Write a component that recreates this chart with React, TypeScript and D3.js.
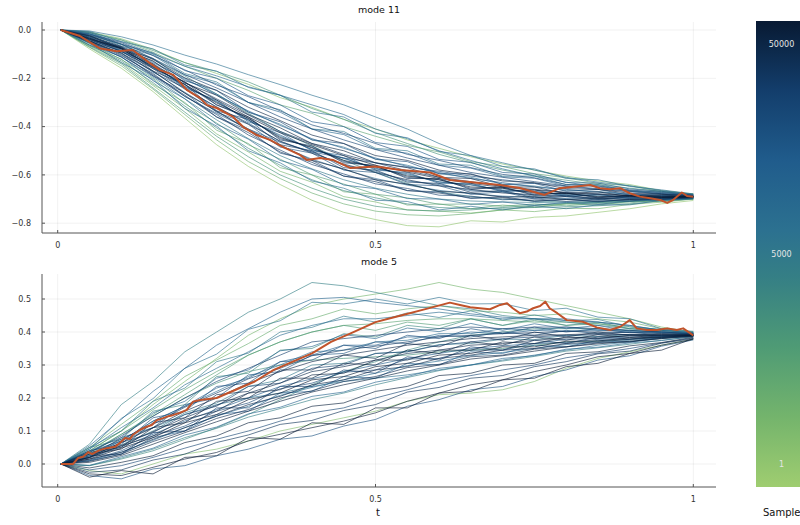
import React from "react";
import * as d3 from "d3";

// ---------- data ----------
const tKnots = [0.005, 0.05, 0.1, 0.15, 0.2, 0.25, 0.3, 0.35, 0.4, 0.45, 0.5, 0.55, 0.6, 0.65, 0.7, 0.75, 0.8, 0.85, 0.9, 0.95, 1.0];

const mode11Paths: number[][] = [
  [0,-.004,-.028,-.062,-.104,-.141,-.185,-.226,-.27,-.31,-.36,-.41,-.47,-.52,-.55,-.58,-.61,-.63,-.645,-.665,-.68],
  [0,-.01,-.04,-.085,-.135,-.172,-.215,-.27,-.325,-.37,-.425,-.47,-.515,-.55,-.58,-.603,-.622,-.64,-.655,-.668,-.68],
  [0,-.018,-.052,-.106,-.165,-.228,-.276,-.335,-.393,-.428,-.47,-.515,-.54,-.57,-.598,-.612,-.64,-.645,-.662,-.673,-.684],
  [0,-.016,-.048,-.098,-.15,-.19,-.235,-.27,-.31,-.35,-.41,-.45,-.5,-.54,-.575,-.605,-.63,-.65,-.665,-.678,-.686],
  [0,-.024,-.068,-.122,-.198,-.25,-.32,-.375,-.435,-.47,-.52,-.54,-.58,-.598,-.625,-.632,-.657,-.66,-.676,-.68,-.688],
  [0,-.028,-.07,-.135,-.2,-.27,-.335,-.395,-.45,-.49,-.53,-.565,-.59,-.615,-.632,-.65,-.66,-.672,-.678,-.686,-.69],
  [0,-.03,-.075,-.14,-.218,-.285,-.352,-.42,-.47,-.515,-.55,-.583,-.61,-.628,-.648,-.66,-.672,-.678,-.684,-.688,-.69],
  [0,-.036,-.078,-.152,-.226,-.302,-.366,-.445,-.488,-.54,-.566,-.605,-.62,-.65,-.655,-.675,-.677,-.69,-.687,-.693,-.69],
  [0,-.033,-.085,-.147,-.235,-.295,-.375,-.435,-.495,-.53,-.575,-.595,-.63,-.64,-.665,-.668,-.684,-.682,-.693,-.688,-.692],
  [0,-.04,-.088,-.16,-.245,-.318,-.39,-.46,-.51,-.555,-.59,-.62,-.645,-.66,-.675,-.682,-.69,-.694,-.696,-.692,-.691],
  [0,-.044,-.098,-.172,-.258,-.338,-.41,-.48,-.535,-.578,-.615,-.642,-.664,-.678,-.688,-.693,-.698,-.7,-.699,-.696,-.693],
  [0,-.048,-.106,-.18,-.275,-.35,-.435,-.497,-.557,-.596,-.637,-.656,-.684,-.688,-.703,-.699,-.71,-.704,-.708,-.697,-.695],
  [0,-.052,-.112,-.195,-.285,-.372,-.45,-.52,-.575,-.62,-.655,-.68,-.7,-.708,-.712,-.714,-.716,-.714,-.71,-.702,-.697],
  [0,-.056,-.122,-.2,-.305,-.385,-.475,-.535,-.6,-.638,-.68,-.695,-.722,-.72,-.73,-.72,-.728,-.718,-.716,-.703,-.698],
  [0,-.066,-.135,-.23,-.325,-.43,-.505,-.585,-.63,-.69,-.712,-.745,-.75,-.758,-.745,-.752,-.738,-.74,-.722,-.713,-.7],
  [0,-.078,-.158,-.255,-.365,-.475,-.565,-.64,-.705,-.755,-.785,-.81,-.815,-.79,-.795,-.775,-.77,-.755,-.74,-.72,-.706],
  [0,-.072,-.148,-.245,-.35,-.455,-.545,-.615,-.675,-.72,-.75,-.765,-.77,-.76,-.745,-.73,-.72,-.715,-.71,-.705,-.7],
  [0,-.022,-.06,-.12,-.19,-.265,-.345,-.42,-.48,-.54,-.59,-.635,-.67,-.69,-.7,-.708,-.712,-.71,-.705,-.7,-.694],
  [0,-.05,-.112,-.19,-.275,-.345,-.41,-.465,-.505,-.53,-.55,-.568,-.585,-.605,-.62,-.635,-.648,-.66,-.67,-.68,-.685],
  [0,-.012,-.042,-.092,-.15,-.2,-.25,-.31,-.345,-.4,-.44,-.478,-.505,-.545,-.565,-.595,-.612,-.635,-.645,-.67,-.68],
  [0,-.046,-.095,-.17,-.262,-.335,-.415,-.476,-.54,-.575,-.62,-.638,-.668,-.675,-.692,-.69,-.702,-.698,-.702,-.694,-.694],
  [0,-.026,-.072,-.13,-.205,-.265,-.34,-.39,-.455,-.485,-.535,-.56,-.595,-.61,-.638,-.646,-.665,-.668,-.682,-.684,-.689],
  [0,-.062,-.128,-.218,-.315,-.405,-.49,-.56,-.62,-.665,-.695,-.72,-.735,-.74,-.738,-.735,-.732,-.728,-.72,-.708,-.7],
  [0,-.034,-.074,-.145,-.215,-.29,-.36,-.425,-.475,-.52,-.56,-.588,-.615,-.635,-.652,-.663,-.674,-.68,-.686,-.689,-.69],
  [0,-.038,-.09,-.155,-.24,-.32,-.385,-.462,-.505,-.56,-.585,-.625,-.64,-.665,-.67,-.688,-.686,-.698,-.694,-.695,-.69],
  [0,-.008,-.036,-.08,-.135,-.18,-.225,-.28,-.32,-.37,-.41,-.455,-.49,-.525,-.555,-.58,-.605,-.625,-.64,-.665,-.678],
  [0,-.045,-.102,-.185,-.27,-.36,-.425,-.505,-.548,-.605,-.628,-.665,-.675,-.695,-.695,-.708,-.702,-.71,-.702,-.7,-.694],
  [0,-.02,-.058,-.118,-.185,-.24,-.3,-.36,-.41,-.455,-.495,-.53,-.56,-.59,-.61,-.628,-.646,-.657,-.668,-.678,-.685],
  [0,-.07,-.14,-.24,-.34,-.44,-.525,-.6,-.655,-.7,-.73,-.745,-.75,-.745,-.735,-.725,-.718,-.712,-.708,-.704,-.699],
  [0,-.034,-.082,-.15,-.232,-.298,-.372,-.44,-.495,-.532,-.572,-.6,-.628,-.642,-.662,-.67,-.682,-.686,-.691,-.689,-.69],
  [0,-.01,-.058,-.095,-.168,-.2,-.272,-.31,-.38,-.4,-.466,-.482,-.536,-.548,-.59,-.596,-.632,-.634,-.658,-.668,-.683],
  [0,-.045,-.075,-.17,-.225,-.335,-.37,-.475,-.5,-.57,-.58,-.63,-.635,-.672,-.665,-.695,-.684,-.702,-.688,-.7,-.69],
  [0,-.015,-.066,-.105,-.186,-.222,-.3,-.34,-.41,-.433,-.494,-.51,-.56,-.572,-.608,-.614,-.646,-.646,-.667,-.674,-.684],
  [0,-.052,-.095,-.19,-.26,-.36,-.415,-.51,-.54,-.605,-.62,-.665,-.67,-.698,-.69,-.71,-.7,-.712,-.7,-.703,-.694],
  [0,-.006,-.048,-.078,-.145,-.17,-.238,-.27,-.34,-.36,-.428,-.446,-.503,-.52,-.565,-.575,-.615,-.62,-.648,-.662,-.679],
  [0,-.04,-.07,-.16,-.215,-.31,-.36,-.455,-.48,-.55,-.56,-.615,-.615,-.66,-.65,-.685,-.675,-.695,-.685,-.695,-.69],
  [0,-.03,-.09,-.14,-.24,-.29,-.38,-.425,-.5,-.52,-.58,-.59,-.635,-.635,-.67,-.662,-.69,-.68,-.698,-.688,-.691],
  [0,-.055,-.135,-.205,-.325,-.398,-.5,-.55,-.625,-.655,-.705,-.71,-.745,-.73,-.745,-.728,-.74,-.724,-.724,-.705,-.699],
  [0,-.025,-.078,-.128,-.22,-.27,-.35,-.405,-.47,-.5,-.55,-.57,-.61,-.615,-.65,-.65,-.678,-.67,-.69,-.683,-.69],
  [0,-.048,-.085,-.175,-.24,-.34,-.39,-.485,-.51,-.58,-.59,-.64,-.645,-.68,-.67,-.7,-.69,-.705,-.69,-.698,-.691],
  [0,-.015,-.06,-.1,-.18,-.215,-.3,-.33,-.41,-.42,-.49,-.5,-.555,-.56,-.605,-.605,-.64,-.64,-.665,-.67,-.684],
  [0,-.038,-.078,-.155,-.225,-.31,-.365,-.45,-.485,-.545,-.565,-.61,-.62,-.655,-.655,-.68,-.675,-.692,-.686,-.694,-.69],
  [0,-.062,-.11,-.21,-.285,-.39,-.452,-.54,-.577,-.642,-.657,-.698,-.7,-.722,-.712,-.726,-.714,-.722,-.708,-.705,-.697],
  [0,-.022,-.075,-.118,-.21,-.25,-.34,-.38,-.455,-.47,-.535,-.545,-.595,-.595,-.64,-.635,-.668,-.66,-.684,-.678,-.688],
  [0,-.065,-.12,-.225,-.3,-.415,-.47,-.57,-.6,-.67,-.68,-.725,-.72,-.74,-.725,-.735,-.72,-.725,-.71,-.71,-.699],
];
const mode11Shades = [0.55,0.35,0.8,0.6,0.95,0.7,0.88,1.0,0.75,0.92,0.65,0.85,0.5,0.3,0.15,0.05,0.2,0.45,0.78,0.25,0.97,0.58,0.4,0.99,0.68,0.1,0.9,0.82,0.35,0.6,
  0.72,0.88,0.62,0.8,0.55,0.9,0.7,0.6,0.96,0.76,0.5,0.85,0.66,0.78,0.22];

const mode11HighlightT = [0.005,0.035,0.067,0.093,0.118,0.145,0.161,0.182,0.203,0.224,0.235,0.25,0.276,0.292,0.313,0.334,0.354,0.381,0.392,0.413,0.433,0.46,0.5,0.54,0.586,0.617,0.664,0.696,0.727,0.766,0.79,0.838,0.853,0.869,0.885,0.9,0.916,0.932,0.948,0.959,0.968,0.982,0.99,1.0];
const mode11HighlightV = [0,-0.025,-0.077,-0.088,-0.083,-0.137,-0.166,-0.186,-0.248,-0.282,-0.311,-0.323,-0.36,-0.402,-0.435,-0.455,-0.484,-0.517,-0.538,-0.53,-0.538,-0.571,-0.565,-0.58,-0.59,-0.621,-0.634,-0.642,-0.654,-0.683,-0.655,-0.642,-0.655,-0.659,-0.655,-0.676,-0.69,-0.697,-0.704,-0.716,-0.704,-0.673,-0.687,-0.69];

const mode5Paths: number[][] = [
  [0,.06,.18,.25,.34,.4,.46,.5,.55,.54,.52,.5,.48,.47,.45,.44,.43,.42,.41,.4,.395],
  [0,.04,.1,.18,.25,.32,.39,.44,.48,.5,.515,.53,.55,.53,.52,.5,.48,.46,.44,.415,.4],
  [0,.045,.11,.17,.24,.29,.34,.39,.42,.44,.44,.45,.46,.45,.44,.44,.435,.43,.42,.405,.398],
  [0,.03,.09,.15,.21,.27,.33,.37,.4,.42,.405,.43,.42,.44,.42,.435,.42,.425,.41,.405,.396],
  [0,.035,.085,.145,.2,.25,.29,.33,.37,.38,.39,.4,.41,.415,.41,.415,.415,.41,.405,.4,.395],
  [0,.028,.07,.13,.175,.23,.26,.31,.33,.36,.36,.385,.385,.4,.395,.405,.402,.406,.4,.398,.394],
  [0,.02,.065,.11,.16,.2,.245,.28,.31,.33,.345,.36,.37,.38,.385,.39,.392,.395,.392,.392,.392],
  [0,.025,.058,.1,.155,.185,.235,.255,.3,.305,.335,.34,.362,.365,.378,.377,.39,.386,.392,.388,.391],
  [0,.015,.048,.08,.125,.15,.195,.215,.255,.265,.295,.305,.33,.335,.355,.355,.372,.373,.382,.384,.39],
  [0,.012,.04,.085,.115,.16,.185,.228,.245,.278,.285,.318,.32,.345,.345,.365,.368,.378,.378,.386,.389],
  [0,.008,.03,.068,.1,.138,.165,.2,.222,.25,.265,.292,.302,.325,.33,.348,.355,.367,.37,.381,.388],
  [0,-.004,.022,.048,.088,.112,.152,.172,.205,.218,.248,.265,.29,.3,.32,.328,.348,.354,.367,.374,.386],
  [0,-.012,.005,.025,.065,.085,.125,.14,.175,.185,.22,.235,.268,.275,.3,.305,.335,.34,.358,.368,.384],
  [0,-.025,-.018,.012,.03,.065,.088,.12,.132,.162,.18,.218,.232,.26,.268,.295,.31,.334,.342,.366,.38],
  [0,-.035,-.045,-.015,-.005,.025,.045,.075,.085,.115,.135,.175,.195,.225,.235,.265,.285,.315,.328,.357,.376],
  [0,-.02,-.03,0,.03,.045,.07,.1,.12,.14,.16,.19,.21,.215,.225,.25,.29,.32,.34,.36,.378],
  [0,.025,.07,.11,.15,.18,.2,.215,.235,.25,.26,.27,.285,.3,.315,.33,.345,.36,.37,.38,.388],
  [0,-.005,.015,.04,.075,.11,.15,.195,.24,.28,.31,.345,.37,.39,.4,.41,.41,.41,.405,.4,.395],
  [0,.03,.075,.12,.172,.215,.258,.29,.328,.345,.357,.37,.385,.39,.395,.398,.402,.4,.398,.395,.393],
  [0,.005,.026,.06,.095,.128,.16,.19,.218,.24,.26,.282,.3,.318,.328,.342,.355,.364,.372,.38,.387],
  [0,.05,.12,.19,.265,.315,.365,.42,.44,.47,.455,.47,.48,.465,.46,.45,.455,.44,.43,.41,.4],
  [0,-.018,-.005,.02,.048,.075,.1,.13,.155,.17,.2,.225,.25,.268,.285,.3,.322,.336,.35,.367,.382],
  [0,.018,.052,.09,.13,.165,.2,.235,.258,.28,.3,.32,.335,.35,.358,.365,.378,.38,.385,.386,.39],
  [0,.01,.036,.072,.11,.145,.175,.208,.232,.255,.275,.298,.312,.328,.338,.35,.362,.368,.375,.382,.389],
  [0,.035,.09,.145,.2,.245,.28,.3,.315,.32,.325,.33,.34,.345,.35,.36,.37,.372,.378,.385,.39],
  [0,.055,.135,.22,.29,.36,.41,.46,.5,.505,.49,.48,.47,.455,.445,.44,.44,.43,.42,.405,.398],
  [0,-.03,-.035,-.01,.015,.035,.07,.09,.11,.13,.155,.19,.215,.24,.255,.28,.3,.325,.335,.36,.378],
  [0,.02,.056,.098,.14,.178,.215,.245,.28,.295,.315,.335,.345,.36,.365,.375,.382,.385,.388,.388,.391],
  [0,-.005,.018,.045,.08,.108,.142,.168,.195,.215,.24,.262,.283,.3,.312,.326,.342,.352,.363,.375,.386],
  [0,.04,.1,.165,.225,.28,.33,.37,.4,.42,.425,.435,.44,.44,.435,.43,.43,.425,.415,.405,.397],
  [0,.03,.045,.11,.125,.19,.2,.26,.26,.305,.3,.345,.335,.37,.36,.385,.375,.392,.383,.392,.39],
  [0,.05,.1,.19,.23,.31,.336,.4,.414,.448,.43,.458,.444,.464,.436,.452,.434,.438,.416,.408,.399],
  [0,.04,.06,.14,.16,.235,.245,.31,.315,.36,.35,.39,.38,.41,.395,.415,.4,.41,.398,.4,.394],
  [0,.045,.138,.198,.29,.333,.408,.434,.49,.485,.5,.485,.505,.485,.486,.465,.472,.445,.44,.41,.402],
  [0,.025,.03,.095,.1,.17,.17,.235,.235,.285,.275,.325,.315,.355,.345,.375,.365,.385,.378,.39,.39],
  [0,.05,.075,.16,.18,.265,.275,.345,.35,.395,.385,.42,.41,.44,.42,.44,.42,.43,.41,.408,.396],
  [0,.04,.08,.155,.19,.26,.285,.343,.356,.392,.38,.412,.401,.426,.405,.425,.41,.42,.402,.402,.396],
  [0,.035,.05,.125,.14,.21,.22,.285,.285,.33,.32,.365,.355,.39,.375,.4,.385,.4,.39,.395,.392],
  [0,.01,.03,.08,.1,.15,.16,.215,.22,.265,.26,.305,.3,.34,.335,.36,.355,.375,.37,.384,.389],
  [0,.02,.055,.085,.135,.16,.215,.225,.27,.275,.315,.315,.345,.345,.37,.365,.385,.38,.39,.388,.39],
  [0,.02,.08,.11,.18,.2,.27,.28,.33,.335,.37,.365,.39,.385,.4,.39,.405,.395,.4,.39,.393],
  [0,.038,.07,.13,.175,.22,.265,.3,.34,.345,.37,.375,.395,.395,.41,.405,.415,.405,.405,.398,.395],
  [0,.015,.035,.075,.11,.145,.18,.205,.24,.255,.285,.295,.32,.33,.345,.35,.365,.37,.378,.383,.389],
  [0,-.04,-.02,-.03,.02,.025,.08,.075,.125,.12,.17,.17,.215,.22,.255,.26,.295,.305,.335,.345,.38],
  [0,.022,.065,.095,.15,.175,.235,.245,.29,.3,.335,.34,.36,.37,.38,.385,.39,.392,.392,.39,.391],
];
const mode5Shades = [0.45,0.15,0.6,0.3,0.85,0.7,0.95,0.5,1.0,0.8,0.92,0.65,0.98,0.9,0.75,0.1,0.55,0.4,0.88,0.97,0.2,0.82,0.72,0.6,0.35,0.65,0.99,0.93,0.45,0.25,
  0.96,0.5,0.78,0.55,0.85,0.4,0.65,0.93,0.7,0.97,0.75,0.6,0.94,1.0,0.83];

const mode5HighlightT = [0.005,0.024,0.032,0.04,0.048,0.054,0.066,0.077,0.09,0.098,0.106,0.114,0.118,0.129,0.14,0.148,0.156,0.166,0.174,0.181,0.192,0.203,0.213,0.224,0.25,0.28,0.31,0.34,0.37,0.4,0.43,0.46,0.5,0.54,0.58,0.617,0.633,0.649,0.664,0.68,0.696,0.707,0.716,0.727,0.738,0.748,0.759,0.767,0.774,0.786,0.801,0.826,0.848,0.869,0.885,0.9,0.911,0.927,0.943,0.959,0.974,0.984,1.0];
const mode5HighlightV = [0,0,0.018,0.022,0.036,0.03,0.042,0.048,0.052,0.064,0.079,0.076,0.088,0.103,0.113,0.118,0.133,0.139,0.145,0.148,0.155,0.164,0.189,0.194,0.2,0.225,0.25,0.285,0.31,0.335,0.37,0.395,0.43,0.45,0.47,0.489,0.482,0.475,0.472,0.469,0.482,0.487,0.472,0.457,0.462,0.472,0.479,0.492,0.472,0.457,0.436,0.431,0.414,0.406,0.416,0.436,0.411,0.406,0.406,0.411,0.406,0.411,0.39];

const xTicks = [0, 0.5, 1];
const xTickLabels = ["0", "0.5", "1"];
const mode11YTicks = [0, -0.2, -0.4, -0.6, -0.8];
const mode5YTicks = [0, 0.1, 0.2, 0.3, 0.4, 0.5];
const colorbarTickPos = [0.05, 0.5, 0.95];
const colorbarTickLabels = ["1", "5000", "50000"];
const colormapStops = [0, 0.15, 0.3, 0.45, 0.55, 0.7, 0.85, 1];
const colormapColors = ["#9fcd70", "#74b46c", "#4f9b75", "#357f85", "#2c7190", "#205c8c", "#133e6c", "#081a33"];

// ---------- layout ----------
const W = 800, H = 525;
const frameLeft = 42, frameRight = 716;
const FONT = "DejaVu Sans, sans-serif";
const ORANGE = "#c1532b";

const cmap = d3.scaleLinear<string>().domain(colormapStops).range(colormapColors).interpolate(d3.interpolateRgb);

function fmt(v: number, digits: number) {
  const s = v.toFixed(digits);
  return s.startsWith("-") ? "\u2212" + s.slice(1) : s;
}

function Panel(props: {
  title: string; titleY: number; top: number; bottom: number;
  yDomain: [number, number]; yRange: [number, number]; yTicks: number[];
  paths: number[][]; shades: number[]; hiT: number[]; hiV: number[];
}) {
  const { title, titleY, top, bottom, yDomain, yRange, yTicks, paths, shades, hiT, hiV } = props;
  const x = d3.scaleLinear().domain([0, 1]).range([57.7, 693.3]);
  const y = d3.scaleLinear().domain(yDomain).range(yRange);
  const line = d3.line<[number, number]>().x(d => x(d[0])).y(d => y(d[1]));
  const order = d3.range(paths.length).sort((a, b) => shades[a] - shades[b]);
  return (
    <g>
      <text x={379} y={titleY} textAnchor="middle" fontFamily={FONT} fontSize={9.5} fill="#111">{title}</text>
      {yTicks.map(t => (
        <line key={"gy" + t} x1={frameLeft} x2={frameRight} y1={y(t)} y2={y(t)} stroke="#000" strokeOpacity={0.07} strokeWidth={0.8} />
      ))}
      {xTicks.map(t => (
        <line key={"gx" + t} x1={x(t)} x2={x(t)} y1={top} y2={bottom} stroke="#000" strokeOpacity={0.07} strokeWidth={0.8} />
      ))}
      {order.map(i => (
        <path key={"p" + i} d={line(paths[i].map((v, k) => [tKnots[k], v] as [number, number])) || ""}
          fill="none" stroke={cmap(shades[i])} strokeWidth={0.85} strokeOpacity={0.75} />
      ))}
      <path d={line(hiV.map((v, k) => [hiT[k], v] as [number, number])) || ""} fill="none" stroke={ORANGE} strokeWidth={2} strokeLinejoin="round" />
      <line x1={frameLeft} x2={frameLeft} y1={top} y2={bottom} stroke="#555" strokeWidth={1} />
      <line x1={frameLeft} x2={frameRight} y1={bottom} y2={bottom} stroke="#555" strokeWidth={1} />
      {yTicks.map(t => (
        <g key={"ty" + t}>
          <line x1={frameLeft} x2={frameLeft + 3} y1={y(t)} y2={y(t)} stroke="#555" />
          <text x={31} y={y(t)} dy="0.35em" textAnchor="end" fontFamily={FONT} fontSize={8} fill="#333">{fmt(t, 1)}</text>
        </g>
      ))}
      {xTicks.map((t, i) => (
        <g key={"tx" + t}>
          <line x1={x(t)} x2={x(t)} y1={bottom} y2={bottom - 3} stroke="#555" />
          <text x={x(t)} y={bottom + 12} dy="0.35em" textAnchor="middle" fontFamily={FONT} fontSize={8} fill="#333">{xTickLabels[i]}</text>
        </g>
      ))}
    </g>
  );
}

export default function App() {
  const cbTop = 21, cbBottom = 487, cbLeft = 756;
  const cbY = d3.scaleLinear().domain([0, 1]).range([cbBottom, cbTop]);
  return (
    <svg width={W} height={H} style={{ position: "absolute", left: 0, top: 0, background: "#fff" }}>
      <defs>
        <linearGradient id="cbgrad" x1="0" y1="1" x2="0" y2="0">
          {colormapStops.map((s, i) => (
            <stop key={i} offset={s} stopColor={colormapColors[i]} />
          ))}
        </linearGradient>
      </defs>
      <rect width={W} height={H} fill="#fff" />
      <Panel title="mode 11" titleY={13} top={22} bottom={233}
        yDomain={[0, -0.8]} yRange={[30, 223.2]} yTicks={mode11YTicks}
        paths={mode11Paths} shades={mode11Shades} hiT={mode11HighlightT} hiV={mode11HighlightV} />
      <Panel title="mode 5" titleY={265} top={274} bottom={487}
        yDomain={[0, 0.5]} yRange={[464, 299]} yTicks={mode5YTicks}
        paths={mode5Paths} shades={mode5Shades} hiT={mode5HighlightT} hiV={mode5HighlightV} />
      <text x={378} y={516} textAnchor="middle" fontFamily={FONT} fontSize={10} fill="#111">t</text>
      <rect x={cbLeft} y={cbTop} width={W - cbLeft} height={cbBottom - cbTop} fill="url(#cbgrad)" />
      {colorbarTickPos.map((p, i) => (
        <text key={i} x={781.5} y={cbY(p)} dy="0.35em" textAnchor="middle" fontFamily={FONT} fontSize={8} fill="#e6e6e6">{colorbarTickLabels[i]}</text>
      ))}
      <text x={763} y={516} fontFamily={FONT} fontSize={10} fill="#111">Sample</text>
    </svg>
  );
}
